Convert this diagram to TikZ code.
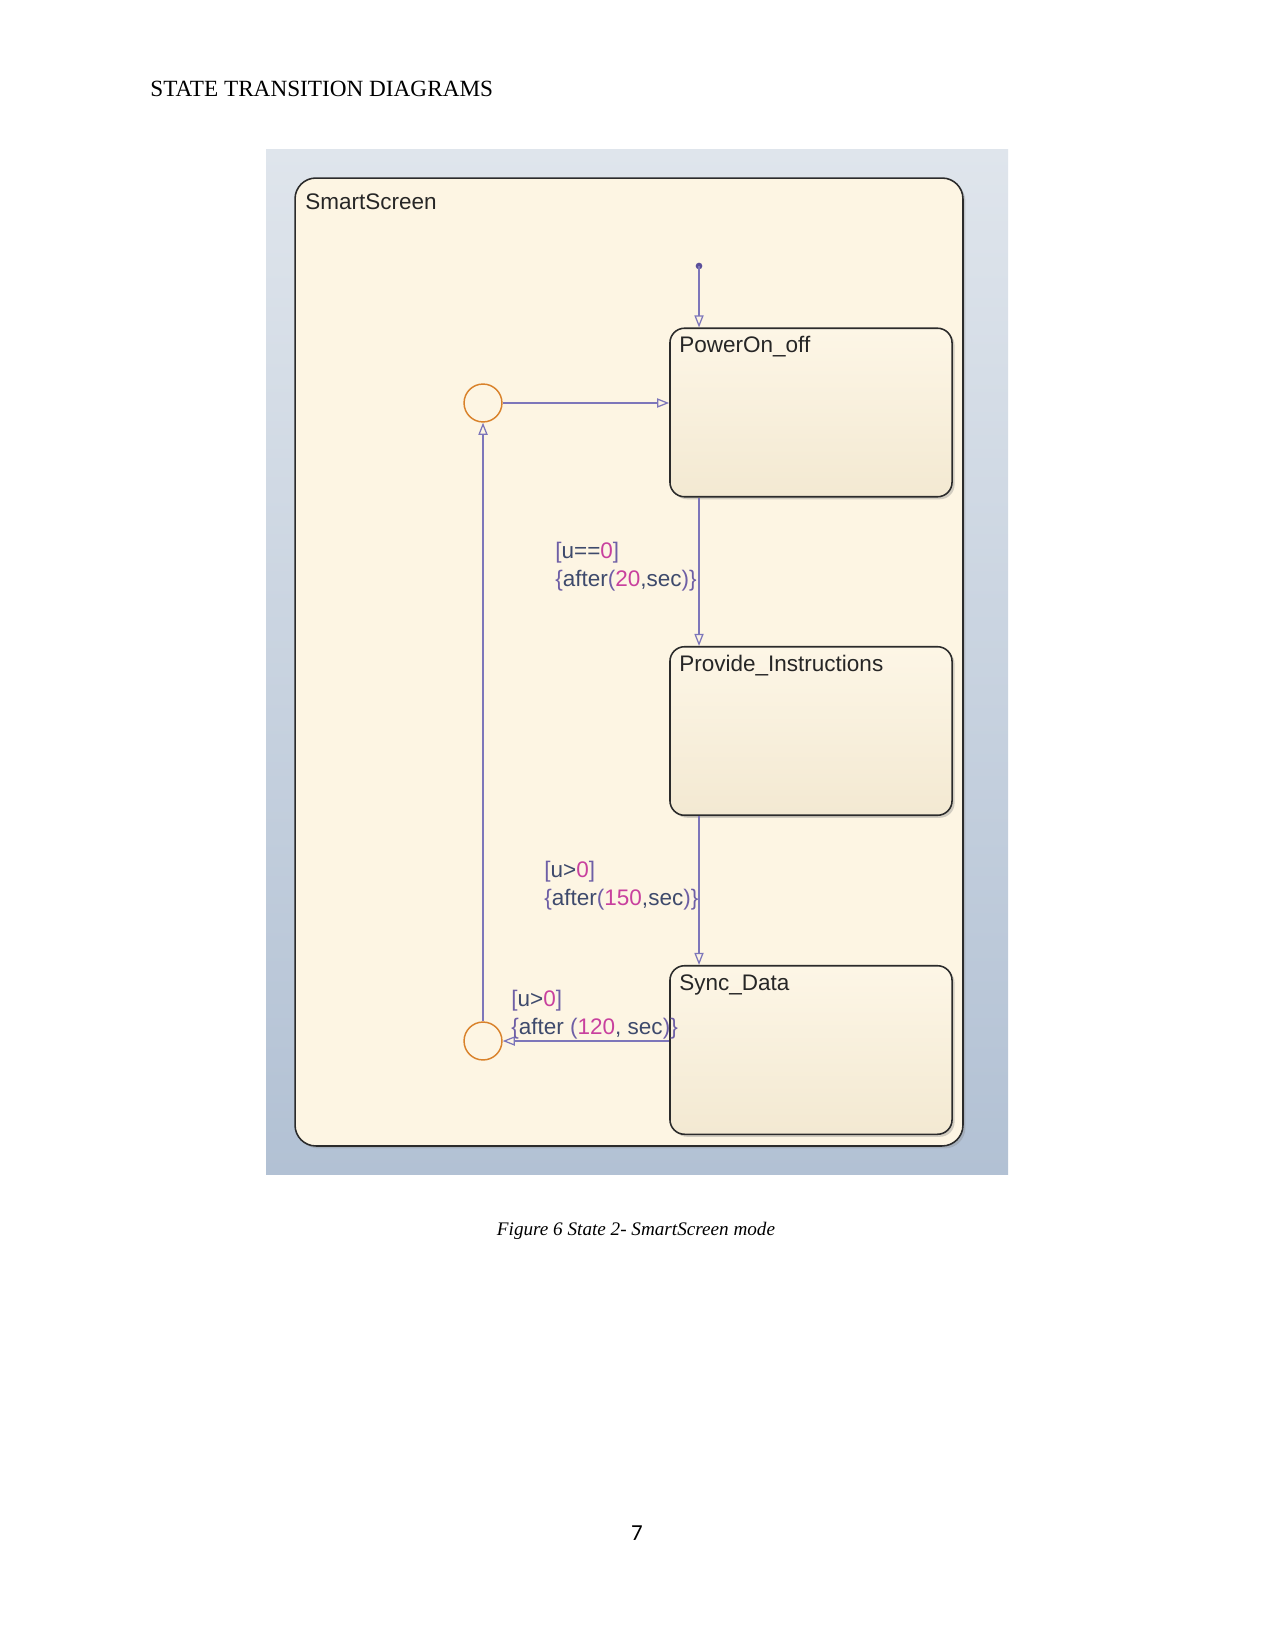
\documentclass[tikz,border=0pt]{standalone}
\usepackage{fontspec}
\setmainfont{Liberation Serif}
\newfontfamily\diafont{Liberation Sans}
\newfontfamily\numfont{Carlito}
\usetikzlibrary{arrows.meta,shadows,calc}
\definecolor{bgtop}{HTML}{DFE5EC}
\definecolor{bgbot}{HTML}{B2C1D4}
\definecolor{cream}{HTML}{FDF5E3}
\definecolor{boxtop}{HTML}{FDF6E6}
\definecolor{boxbot}{HTML}{F3E9D2}
\definecolor{edgec}{HTML}{2B2B2B}
\definecolor{trc}{HTML}{7D76BA}
\definecolor{dotc}{HTML}{5A4F9A}
\definecolor{junc}{HTML}{D9822B}
\definecolor{txtc}{HTML}{3E4A6C}
\definecolor{brc}{HTML}{6E5FA6}
\definecolor{numc}{HTML}{C8409E}
\newcommand{\pk}[1]{\textcolor{numc}{#1}}
\newcommand{\pu}[1]{\textcolor{brc}{#1}}
\tikzset{
  statebox/.style={draw=edgec, line width=0.75pt, rounded corners=7pt,
    top color=boxtop, bottom color=boxbot,
    drop shadow={shadow xshift=1.2pt, shadow yshift=-1.2pt, opacity=0.35},
    minimum width=135.4pt, minimum height=80.9pt, inner sep=0pt},
  outerbox/.style={draw=edgec, line width=0.75pt, rounded corners=10pt, fill=cream,
    drop shadow={shadow xshift=1.2pt, shadow yshift=-1.2pt, opacity=0.3},
    minimum width=320.6pt, minimum height=464.6pt, inner sep=0pt},
  junction/.style={circle, draw=junc, line width=0.7pt, fill=cream, minimum size=18.2pt, inner sep=0pt},
  trans/.style={draw=trc, line width=0.6pt, -{Triangle[open, length=5.8pt, width=4.4pt]}},
  stname/.style={anchor=west, inner sep=0pt, font=\diafont\fontsize{10.8}{13}\selectfont, text=black!85},
  tlabel/.style={anchor=west, inner sep=0pt, align=left, text=txtc,
    font=\diafont\fontsize{10.8}{13.4}\selectfont},
}
\begin{document}
\begin{tikzpicture}[x=0.48pt, y=-0.48pt]
\useasboundingbox (0,0) rectangle (1275,1650);
\fill[white] (0,0) rectangle (1275,1650);
% header
\node[anchor=base west, inner sep=0pt, font=\fontsize{11.15}{13}\selectfont] (hdr) at (150,97) {STATE TRANSITION DIAGRAMS};
% background
\shade[top color=bgtop, bottom color=bgbot] (266,150) rectangle (1008,1174);
% outer state
\node[outerbox] (outer) at (629,662) {};
\node[stname] (outername) at (305,202) {SmartScreen};
% inner states
\node[statebox] (p) at (811,412.5) {};
\node[stname] (pname) at (679,347) {PowerOn\_off};
\node[statebox] (pi) at (811,731) {};
\node[stname] (piname) at (679,666) {Provide\_Instructions};
\node[statebox] (s) at (811,1050) {};
\node[stname] (sname) at (679,985) {Sync\_Data};
% junctions
\node[junction] (j1) at (483,403) {};
\node[junction] (j2) at (483,1041) {};
% default transition
\coordinate (init) at (699,266);
\fill[dotc] (init) circle (1.6pt);
\draw[trans] (init) -- (init |- p.north);
% transitions
\draw[trans] (j1.east) -- (j1.east -| p.west);
\draw[trans] (init |- p.south) -- (init |- pi.north);
\draw[trans] (init |- pi.south) -- (init |- s.north);
\draw[trans] (j2.east -| s.west) -- (j2.east);
\draw[trans] (j2.north) -- (j1.south);
% labels
\node[tlabel] (l1) at (555,567) {\pu{[}u==\pk{0}\pu{]}\\\pu{\{}after\pu{(}\pk{20},sec\pu{)}\pu{\}}};
\node[tlabel] (l2) at (544,886) {\pu{[}u>\pk{0}\pu{]}\\\pu{\{}after\pu{(}\pk{150},sec\pu{)}\pu{\}}};
\node[tlabel] (l3) at (511,1015) {\pu{[}u>\pk{0}\pu{]}\\\pu{\{}after \pu{(}\pk{120}, sec\pu{)}\pu{\}}};
% caption
\node[inner sep=0pt, font=\itshape\fontsize{9.2}{12}\selectfont] (cap) at (636,1231) {Figure 6 State 2- SmartScreen mode};
% page number
\node[inner sep=0pt, font=\numfont\fontsize{11}{13}\selectfont] (pg) at (637,1533) {7};
\end{tikzpicture}
\end{document}
